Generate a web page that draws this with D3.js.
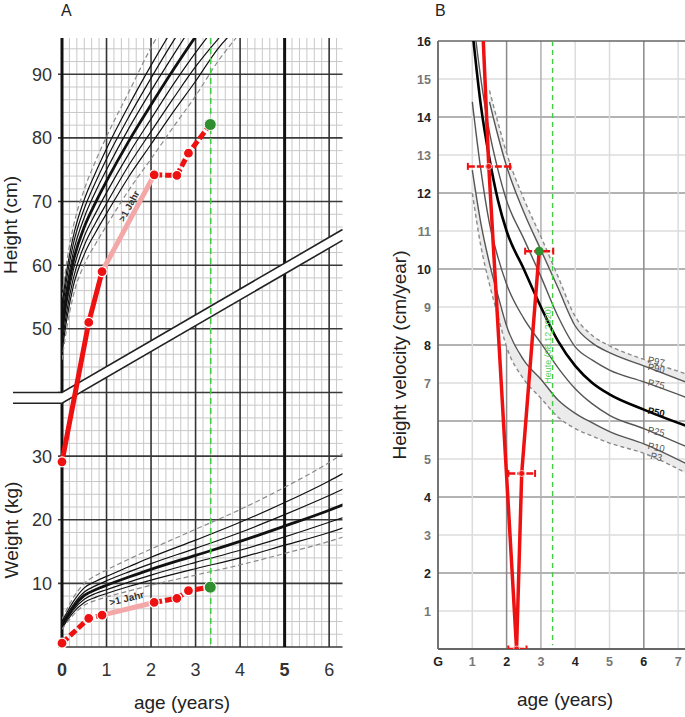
<!DOCTYPE html>
<html><head><meta charset="utf-8">
<script src="https://cdn.jsdelivr.net/npm/d3@7"></script>
<style>body{margin:0;background:#fff}svg{display:block;font-family:"Liberation Sans",Arial,sans-serif}</style>
</head><body><svg id="c" width="685" height="717"></svg>
<script>
// ---------- Panel A: reference curves (height, cm) ----------
const hAges = [0,0.1,0.25,0.5,0.75,1,1.5,2,2.5,3,3.5,4];
const hHi  = [54.9,60.2,65.9,71.9,76.3,80.2,87.2,94.2,100.0,105.4,110.6,115.1];
const hP97 = [53.6,58.8,64.4,70.3,74.5,78.3,85.1,91.4,97.3,102.9,107.8,112.2];
const hP90 = [52.4,57.6,63.2,68.9,73.0,76.7,83.3,89.4,95.2,100.6,105.5,109.7];
const hP75 = [51.3,56.3,61.9,67.5,71.5,75.0,81.5,87.4,93.0,98.4,103.1,107.2];
const hP50 = [50,55,60.5,66,69.8,73.2,79.5,85.2,90.7,95.9,100.5,104.5];
const hP25 = [48.7,53.7,59.1,64.5,68.1,71.4,77.5,83.0,88.4,93.4,97.9,101.8];
const hP10 = [47.6,52.4,57.8,63.1,66.6,69.7,75.7,81.0,86.2,91.2,95.5,99.3];
const hP3  = [46.4,51.2,56.6,61.7,65.1,68.1,73.9,79.0,84.1,88.9,94.0,97.8];
const hLo  = [45.1,49.8,55.1,60.1,63.3,66.2,71.8,76.7,81.7,86.6,92.0,96.5];
// ---------- Panel A: reference curves (weight, kg) ----------
const wAges = [0,0.1,0.25,0.5,0.75,1,1.5,2,3,4,5,6,6.5];
const wHi  = [4.4,5.8,7.7,10.0,11.2,12.1,13.8,15.4,18.5,21.6,25.1,29.0,31.3];
const wP90 = [4.0,5.3,7.1,9.3,10.3,11.1,12.6,14.1,16.8,19.6,22.7,26.1,28.0];
const wP75 = [3.75,4.95,6.6,8.65,9.6,10.4,11.8,13.1,15.5,18.0,20.8,23.8,25.4];
const wP50 = [3.5,4.6,6.2,8.1,9.0,9.7,11.0,12.2,14.4,16.6,19.0,21.5,22.9];
const wP25 = [3.25,4.3,5.8,7.5,8.4,9.0,10.2,11.3,13.3,15.2,17.3,19.6,20.8];
const wP10 = [3.0,4.0,5.4,7.0,7.8,8.4,9.5,10.5,12.3,14.0,16.0,18.0,19.2];
const wLo  = [2.8,3.75,5.0,6.55,7.3,7.85,8.8,9.7,11.3,12.9,14.7,16.6,17.7];
// ---------- Panel A: patient ----------
const ptAges    = [0,0.6,0.9,2.07,2.58,2.84,3.33];
const ptHeight  = [29.1,51,59,74.2,74.1,77.6,82.1];
const ptWeight  = [0.6,4.5,5.0,7.0,7.65,8.85,9.4];
const todayAge  = 3.34;
const aYTicks = [90,80,70,60,50,30,20,10];
const aXTicks = [0,1,2,3,4,5,6];
// ---------- Panel B: velocity curves (cm/year) ----------
const vAges = [1,1.25,1.5,1.75,2,2.5,3,3.5,4,4.5,5,6,7.3];
const vP97 = [null,null,14.7,13.85,13.05,11.85,10.85,9.8,8.75,8.25,7.98,7.62,7.22];
const vP90 = [null,null,14.4,13.5,12.7,11.5,10.5,9.5,8.5,8.05,7.8,7.45,7.0];
const vP75 = [16.8,15.0,13.6,12.6,11.8,10.8,9.8,8.75,7.95,7.6,7.34,7.03,6.6];
const vP50 = [16.3,14.3,12.9,11.8,11.0,10.0,9.0,8.1,7.45,7.0,6.7,6.3,5.85];
const vP25 = [14.4,12.6,11.2,10.3,9.6,8.7,8.05,7.4,6.85,6.45,6.15,5.8,5.3];
const vP10 = [12.6,11.2,10.15,9.3,8.5,7.6,7.1,6.55,6.2,5.95,5.72,5.4,4.85];
const vP3  = [12.0,10.6,9.6,8.75,7.95,7.1,6.6,6.1,5.8,5.6,5.42,5.15,4.6];
const vLabels = ["P97","P90","P75","P50","P25","P10","P3"];
// ---------- Panel B: patient velocity ----------
const velAges = [1.17,1.48,2.29,2.44,2.95];
const velVals = [19.1,12.7,0.0,4.62,10.47];
const velErrLo = [null,0.87,2.05,2.05,2.54];
const velErrHi = [null,2.10,2.58,2.83,3.36];
const bYTicks = [16,15,14,13,12,11,10,9,8,7,5,4,3,2,1];
const bXTicks = ["G","1","2","3","4","5","6","7"];

const svg = d3.select("#c");
const defs = svg.append("defs");
const RED = "#ee1111", PINK = "#f4a7a7", GREEN = "#2f8f2f", LGREEN = "#44cc44";

// ================= PANEL A =================
const xA = d3.scaleLinear().domain([0,6.3]).range([62,342.5]);
const yA = d3.scaleLinear().domain([0,95.7]).range([647,38]);
defs.append("clipPath").attr("id","clipA").append("rect")
  .attr("x",xA(0)).attr("y",yA(95.7)).attr("width",xA(6.3)-xA(0)).attr("height",yA(0)-yA(95.7));
const gA = svg.append("g");
const minorX = d3.range(1,38).filter(i=>i%6!==0).map(i=>i/6);
gA.selectAll(".mx").data(minorX).join("line")
  .attr("x1",d=>xA(d)).attr("x2",d=>xA(d)).attr("y1",yA(95.7)).attr("y2",yA(0))
  .attr("stroke","#c8c8c8").attr("stroke-width",1);
const minorY = d3.range(2,96,2).filter(v=>v%10!==0);
gA.selectAll(".my").data(minorY).join("line")
  .attr("x1",xA(0)).attr("x2",xA(6.3)).attr("y1",d=>yA(d)).attr("y2",d=>yA(d))
  .attr("stroke","#c8c8c8").attr("stroke-width",1);
gA.selectAll(".My").data(d3.range(0,100,10)).join("line")
  .attr("x1",xA(0)-4).attr("x2",xA(6.3)).attr("y1",d=>yA(d)).attr("y2",d=>yA(d))
  .attr("stroke","#3a3a3a").attr("stroke-width",1.6);
gA.selectAll(".Mx").data(aXTicks).join("line")
  .attr("x1",d=>xA(d)).attr("x2",d=>xA(d)).attr("y1",yA(95.7)).attr("y2",yA(0))
  .attr("stroke",d=>(d===0||d===5)?"#111":"#333").attr("stroke-width",d=>(d===0||d===5)?3:1.6);

const lineA = (ages)=>d3.line().x((d,i)=>xA(ages[i])).y(d=>yA(d)).curve(d3.curveMonotoneX);
const cA = gA.append("g").attr("clip-path","url(#clipA)");
const hSets = [[hHi,"d"],[hP97,"s"],[hP90,"s"],[hP75,"s"],[hP50,"b"],[hP25,"s"],[hP10,"s"],[hP3,"s"],[hLo,"d"]];
const wSets = [[wHi,"d"],[wP90,"s"],[wP75,"s"],[wP50,"b"],[wP25,"s"],[wP10,"s"],[wLo,"d"]];
function drawRef(sets, ages){
  sets.forEach(([arr,t])=>{
    cA.append("path").attr("d",lineA(ages)(arr)).attr("fill","none")
      .attr("stroke",t==="d"?"#8a8a8a":"#111")
      .attr("stroke-width",t==="b"?2.8:1.2)
      .attr("stroke-dasharray",t==="d"?"5,3":null);
  });
}
drawRef(hSets,hAges); drawRef(wSets,wAges);

// break band
const bandTop = [[-1.1,40],[0,40],[6.3,65.6]];
const bandBot = [[6.3,63.9],[0,38.3],[-1.1,38.3]];
const pl = d3.line().x(d=>xA(d[0])).y(d=>yA(d[1]));
gA.append("path").attr("d",pl(bandTop.concat(bandBot))+"Z").attr("fill","#fff");
gA.append("path").attr("d",pl(bandTop)).attr("fill","none").attr("stroke","#222").attr("stroke-width",1.6);
gA.append("path").attr("d",pl(bandBot)).attr("fill","none").attr("stroke","#222").attr("stroke-width",1.6);

gA.append("line").attr("x1",xA(todayAge)).attr("x2",xA(todayAge)).attr("y1",yA(95.7)).attr("y2",yA(0))
  .attr("stroke",LGREEN).attr("stroke-width",1.6).attr("stroke-dasharray","6,4");

function drawPatient(vals, firstDashed, jahrOff, jahrT, fs){
  const pts = ptAges.map((a,i)=>[xA(a),yA(vals[i])]);
  const seg = (i,j)=>d3.line()(pts.slice(i,j+1));
  gA.append("path").attr("d",seg(0,2)).attr("fill","none").attr("stroke",RED).attr("stroke-width",5)
    .attr("stroke-dasharray",firstDashed?"8,3":null);
  gA.append("path").attr("d",seg(2,3)).attr("fill","none").attr("stroke",PINK).attr("stroke-width",5);
  gA.append("path").attr("d",seg(3,6)).attr("fill","none").attr("stroke",RED).attr("stroke-width",5)
    .attr("stroke-dasharray","8,3");
  pts.slice(0,6).forEach(p=>gA.append("circle").attr("cx",p[0]).attr("cy",p[1]).attr("r",5)
    .attr("fill",RED).attr("stroke","#fff").attr("stroke-width",1.2));
  gA.append("circle").attr("cx",pts[6][0]).attr("cy",pts[6][1]).attr("r",6)
    .attr("fill",GREEN).attr("stroke","#fff").attr("stroke-width",1);
  const p1=pts[2], p2=pts[3];
  const ang = Math.atan2(p2[1]-p1[1],p2[0]-p1[0])*180/Math.PI;
  const px = p1[0]+(p2[0]-p1[0])*jahrT, py = p1[1]+(p2[1]-p1[1])*jahrT;
  gA.append("text").attr("transform",`translate(${px},${py}) rotate(${ang})`)
    .attr("y",jahrOff).attr("text-anchor","middle").attr("font-size",fs).attr("font-weight","bold")
    .attr("fill","#333").text(">1 Jahr");
}
drawPatient(ptHeight,false,-4,0.64,9.5);
drawPatient(ptWeight,true,-7,0.52,10);

svg.selectAll(".ayl").data(aYTicks).join("text")
  .attr("x",52).attr("y",d=>yA(d)).attr("dy","0.36em").attr("text-anchor","end")
  .attr("font-size",18).attr("fill","#333").text(d=>d);
svg.selectAll(".axl").data(aXTicks).join("text")
  .attr("x",d=>xA(d)).attr("y",676).attr("text-anchor","middle")
  .attr("font-size",18).attr("font-weight",d=>(d===0||d===5)?"bold":"normal")
  .attr("fill","#333").text(d=>d);
svg.append("text").attr("x",61).attr("y",16).attr("font-size",16).attr("fill","#222").text("A");
svg.append("text").attr("transform","translate(17,225) rotate(-90)").attr("text-anchor","middle")
  .attr("font-size",19).attr("fill","#222").text("Height (cm)");
svg.append("text").attr("transform","translate(18,530) rotate(-90)").attr("text-anchor","middle")
  .attr("font-size",19).attr("fill","#222").text("Weight (kg)");
svg.append("text").attr("x",182).attr("y",709).attr("text-anchor","middle")
  .attr("font-size",19).attr("fill","#222").text("age (years)");

// ================= PANEL B =================
const xB = d3.scaleLinear().domain([0,7.2]).range([438,685]);
const yB = d3.scaleLinear().domain([0,16]).range([649,41]);
defs.append("clipPath").attr("id","clipB").append("rect")
  .attr("x",xB(0)).attr("y",yB(16)).attr("width",xB(7.2)-xB(0)).attr("height",yB(0)-yB(16));
const gB = svg.append("g");
gB.selectAll(".bgy").data(d3.range(1,16)).join("line")
  .attr("x1",xB(0)).attr("x2",xB(7.2)).attr("y1",d=>yB(d)).attr("y2",d=>yB(d))
  .attr("stroke",d=>d%2===0?"#9a9a9a":"#dcdcdc").attr("stroke-width",1.5);
gB.selectAll(".bgx").data(d3.range(1,8)).join("line")
  .attr("x1",d=>xB(d)).attr("x2",d=>xB(d)).attr("y1",yB(16)).attr("y2",yB(0))
  .attr("stroke",d=>(d===2||d===6)?"#8a8a8a":(d===3?"#b0b0b0":"#dcdcdc")).attr("stroke-width",1.5);
gB.append("line").attr("x1",xB(0)).attr("x2",xB(7.2)).attr("y1",yB(16)).attr("y2",yB(16)).attr("stroke","#666").attr("stroke-width",1.6);
gB.append("line").attr("x1",xB(0)).attr("x2",xB(7.2)).attr("y1",yB(0)).attr("y2",yB(0)).attr("stroke","#666").attr("stroke-width",1.8);
gB.append("line").attr("x1",xB(0)).attr("x2",xB(0)).attr("y1",yB(16)).attr("y2",yB(0)).attr("stroke","#666").attr("stroke-width",1.8);

const cB = gB.append("g").attr("clip-path","url(#clipB)");
const areaB = (lo,hi)=>d3.area().defined((d,i)=>lo[i]!=null&&hi[i]!=null)
  .x((d,i)=>xB(vAges[i])).y0((d,i)=>yB(lo[i])).y1((d,i)=>yB(hi[i])).curve(d3.curveMonotoneX);
cB.append("path").attr("d",areaB(vP90,vP97)(vAges)).attr("fill","#ebebeb");
cB.append("path").attr("d",areaB(vP3,vP10)(vAges)).attr("fill","#ebebeb");
const lineB = d3.line().defined(d=>d[1]!=null).x(d=>xB(d[0])).y(d=>yB(d[1])).curve(d3.curveMonotoneX);
const vSets = [[vP97,"d"],[vP90,"s"],[vP75,"s"],[vP50,"b"],[vP25,"s"],[vP10,"s"],[vP3,"d"]];
vSets.forEach(([arr,t])=>{
  cB.append("path").attr("d",lineB(vAges.map((a,i)=>[a,arr[i]]))).attr("fill","none")
    .attr("stroke",t==="d"?"#8a8a8a":(t==="b"?"#000":"#555"))
    .attr("stroke-width",t==="b"?2.6:1.4).attr("stroke-dasharray",t==="d"?"4,3":null);
});
const labAge = 6.35;
vSets.forEach(([arr,t],k)=>{
  const v = d3.scaleLinear().domain([6,7.3]).range([arr[11],arr[12]])(labAge);
  svg.append("text").attr("transform",`translate(${xB(labAge)},${yB(v)}) rotate(12)`)
    .attr("y",1).attr("text-anchor","middle").attr("font-size",9.5)
    .attr("font-weight",t==="b"?"bold":"normal").attr("fill",t==="b"?"#111":"#555").text(vLabels[k]);
});
cB.append("line").attr("x1",xB(todayAge)).attr("x2",xB(todayAge)).attr("y1",yB(16)).attr("y2",yB(0.1))
  .attr("stroke",LGREEN).attr("stroke-width",1.4).attr("stroke-dasharray","5,4");
svg.append("text").attr("transform",`translate(${xB(todayAge)-2},${yB(8.0)}) rotate(-90)`)
  .attr("text-anchor","middle").attr("font-size",9).attr("fill","#55cc55").text("Heute (08.12.2020)");
cB.append("path").attr("d",d3.line()(velAges.map((a,i)=>[xB(a),yB(velVals[i])])))
  .attr("fill","none").attr("stroke",RED).attr("stroke-width",3.5).attr("stroke-linejoin","round");
velAges.forEach((a,i)=>{
  if(velErrLo[i]==null) return;
  const y = yB(velVals[i]);
  cB.append("line").attr("x1",xB(velErrLo[i])).attr("x2",xB(velErrHi[i])).attr("y1",y).attr("y2",y)
    .attr("stroke",RED).attr("stroke-width",2.5).attr("stroke-dasharray","7,2");
  [velErrLo[i],velErrHi[i]].forEach(e=>cB.append("line").attr("x1",xB(e)).attr("x2",xB(e))
    .attr("y1",y-3.5).attr("y2",y+3.5).attr("stroke",RED).attr("stroke-width",2));
  const last = i===velAges.length-1;
  cB.append("circle").attr("cx",xB(a)).attr("cy",y).attr("r",last?4.5:3)
    .attr("fill",last?GREEN:RED).attr("stroke",last?"none":"#fbb").attr("stroke-width",1);
});
svg.selectAll(".byl").data(bYTicks).join("text")
  .attr("x",431).attr("y",d=>yB(d)).attr("dy","0.36em").attr("text-anchor","end")
  .attr("font-size",12.5).attr("font-weight","bold").attr("fill",d=>d%2===0?"#222":"#777").text(d=>d);
svg.selectAll(".bxl").data(bXTicks).join("text")
  .attr("x",(d,i)=>xB(i)).attr("y",666).attr("text-anchor","middle")
  .attr("font-size",12.5).attr("font-weight","bold").attr("fill",(d,i)=>i%2===0?"#222":"#777").text(d=>d);
svg.append("text").attr("x",435).attr("y",16).attr("font-size",16).attr("fill","#222").text("B");
svg.append("text").attr("transform","translate(406,355) rotate(-90)").attr("text-anchor","middle")
  .attr("font-size",19).attr("fill","#222").text("Height velocity (cm/year)");
svg.append("text").attr("x",565).attr("y",706).attr("text-anchor","middle")
  .attr("font-size",19).attr("fill","#222").text("age (years)");
</script></body></html>
